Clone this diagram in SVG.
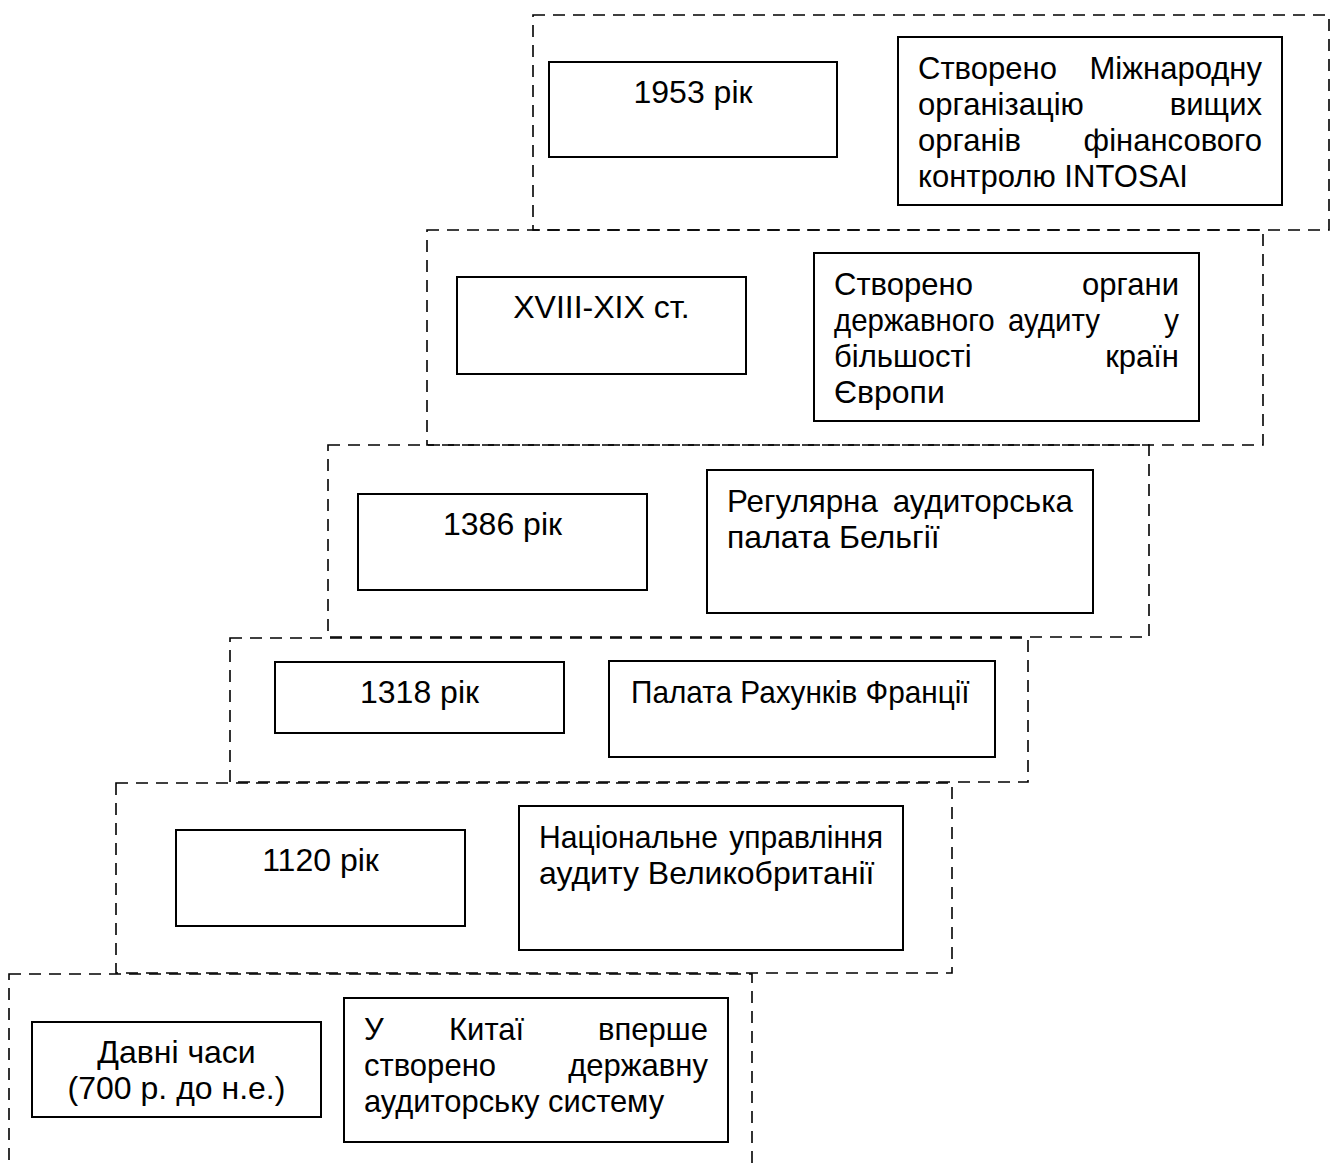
<svg xmlns="http://www.w3.org/2000/svg" width="1343" height="1165" viewBox="0 0 1343 1165">
<style>
.frame{fill:none;stroke:#000;stroke-width:1.6;stroke-dasharray:12 8}
.box{fill:#fff;stroke:#000;stroke-width:2}
text{font-family:"Liberation Sans",Arial,sans-serif;font-size:32px;fill:#000}
.c{text-anchor:middle}
.e{text-anchor:end}
</style>
<rect width="1343" height="1165" fill="#fff"/>
<g id="frames">
<rect class="frame" x="533" y="15" width="796" height="215"/>
<rect class="frame" x="427" y="230" width="836" height="215"/>
<rect class="frame" x="328" y="445" width="821" height="192"/>
<rect class="frame" x="230" y="638" width="798" height="144"/>
<rect class="frame" x="116" y="783" width="836" height="190"/>
<rect class="frame" x="9" y="974" width="743" height="210"/>
</g>
<g id="connectors"></g>
<g id="date-1953">
<rect class="box" x="549" y="62" width="288" height="95"/>
<text class="c" x="693" y="103">1953 рік</text>
</g>
<g id="event-1953">
<rect class="box" x="898" y="37" width="384" height="168"/>
<text transform="translate(918 79) scale(.97 1)">Створено</text><text class="e" transform="translate(1262 79) scale(.97 1)">Міжнародну</text>
<text transform="translate(918 115) scale(.97 1)">організацію</text><text class="e" transform="translate(1262 115) scale(.97 1)">вищих</text>
<text transform="translate(918 151) scale(.97 1)">органів</text><text class="e" transform="translate(1262 151) scale(.97 1)">фінансового</text>
<text transform="translate(918 187) scale(.97 1)">контролю INTOSAI</text>
</g>
<g id="date-18-19">
<rect class="box" x="457" y="277" width="289" height="97"/>
<text class="c" x="601.5" y="318">XVIII-XIX ст.</text>
</g>
<g id="event-18-19">
<rect class="box" x="814" y="253" width="385" height="168"/>
<text transform="translate(834 295) scale(.97 1)">Створено</text><text class="e" transform="translate(1179 295) scale(.97 1)">органи</text>
<text transform="translate(834 331) scale(.92 1)">державного</text><text transform="translate(1008 331) scale(.92 1)">аудиту</text><text class="e" transform="translate(1179 331) scale(.92 1)">у</text>
<text transform="translate(834 367) scale(.97 1)">більшості</text><text class="e" transform="translate(1179 367) scale(.97 1)">країн</text>
<text x="834" y="403">Європи</text>
</g>
<g id="date-1386">
<rect class="box" x="358" y="494" width="289" height="96"/>
<text class="c" x="502.5" y="535">1386 рік</text>
</g>
<g id="event-1386">
<rect class="box" x="707" y="470" width="386" height="143"/>
<text transform="translate(727 512) scale(.98 1)">Регулярна</text><text class="e" transform="translate(1073 512) scale(.98 1)">аудиторська</text>
<text x="727" y="548">палата Бельгії</text>
</g>
<g id="date-1318">
<rect class="box" x="275" y="662" width="289" height="71"/>
<text class="c" x="419.5" y="703">1318 рік</text>
</g>
<g id="event-1318">
<rect class="box" x="609" y="661" width="386" height="96"/>
<text transform="translate(631 703) scale(.93 1)">Палата Рахунків Франції</text>
</g>
<g id="date-1120">
<rect class="box" x="176" y="830" width="289" height="96"/>
<text class="c" x="320.5" y="871">1120 рік</text>
</g>
<g id="event-1120">
<rect class="box" x="519" y="806" width="384" height="144"/>
<text transform="translate(539 848) scale(.94 1)">Національне</text><text class="e" transform="translate(883 848) scale(.94 1)">управління</text>
<text x="539" y="884">аудиту Великобританії</text>
</g>
<g id="date-ancient">
<rect class="box" x="32" y="1022" width="289" height="95"/>
<text class="c" x="176.5" y="1063">Давні часи</text>
<text class="c" x="176.5" y="1099">(700 р. до н.е.)</text>
</g>
<g id="event-ancient">
<rect class="box" x="344" y="998" width="384" height="144"/>
<text transform="translate(364 1040) scale(.97 1)">У</text><text transform="translate(449 1040) scale(.97 1)">Китаї</text><text class="e" transform="translate(708 1040) scale(.97 1)">вперше</text>
<text transform="translate(364 1076) scale(.97 1)">створено</text><text class="e" transform="translate(708 1076) scale(.97 1)">державну</text>
<text transform="translate(364 1112) scale(.965 1)">аудиторську систему</text>
</g>
</svg>
